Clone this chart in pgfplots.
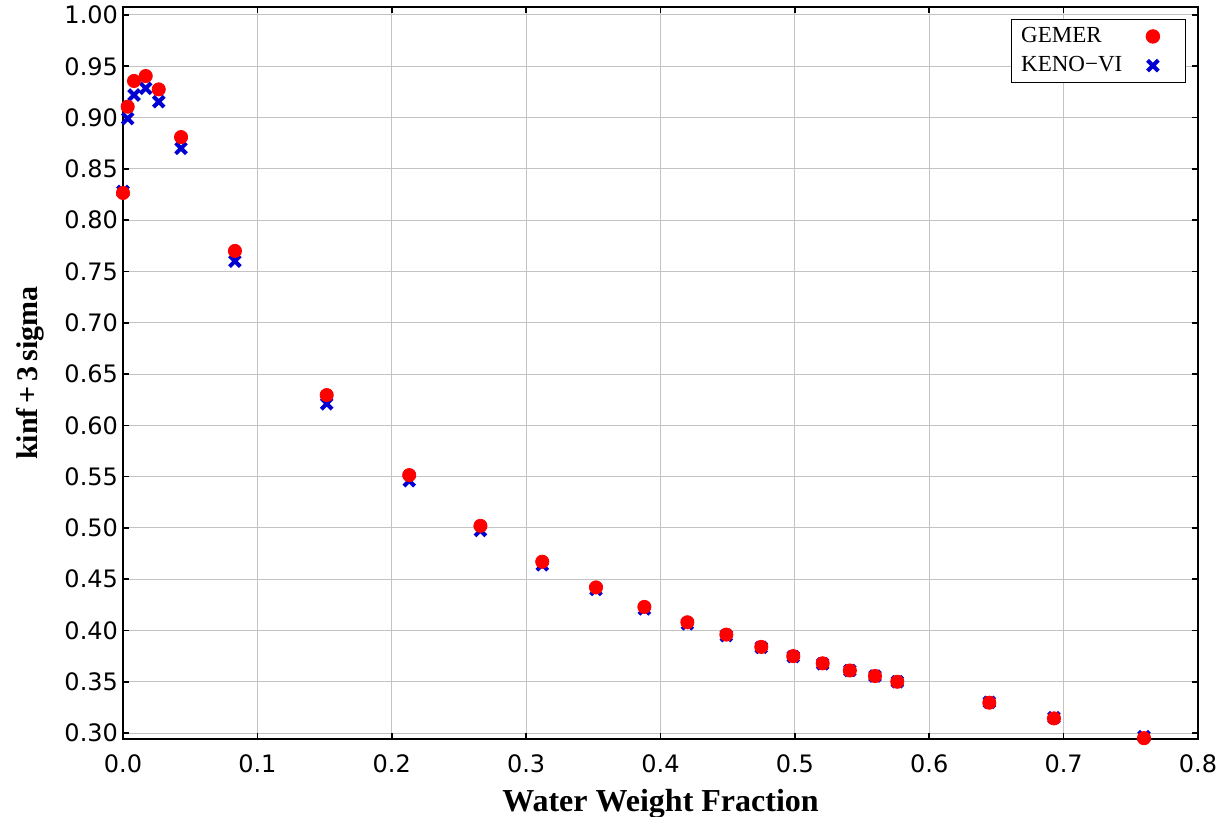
\documentclass[border=0pt]{standalone}
\usepackage{fontspec}
\setmainfont{Liberation Serif}
\newfontfamily\tickfont{DejaVu Sans}
\usepackage{pgfplots}
\pgfplotsset{compat=1.18}
\usepackage{pgfplotstable}

\definecolor{gemred}{RGB}{255,0,0}
\definecolor{kenoblue}{RGB}{0,0,210}
\definecolor{gridgray}{RGB}{195,195,195}

% water weight fraction, GEMER, KENO-VI (kinf + 3 sigma)
\pgfplotstableread{
x       gemer   keno
0.0000  0.8265  0.8280
0.0035  0.9106  0.8990
0.0082  0.9357  0.9220
0.0169  0.9405  0.9285
0.0266  0.9275  0.9155
0.0432  0.8810  0.8700
0.0833  0.7700  0.7600
0.1516  0.6295  0.6210
0.2130  0.5515  0.5460
0.2660  0.5020  0.4975
0.3120  0.4670  0.4640
0.3520  0.4420  0.4400
0.3880  0.4230  0.4210
0.4200  0.4080  0.4065
0.4490  0.3960  0.3950
0.4750  0.3840  0.3835
0.4988  0.3750  0.3745
0.5207  0.3680  0.3675
0.5409  0.3610  0.3610
0.5596  0.3556  0.3556
0.5762  0.3500  0.3500
0.6447  0.3296  0.3300
0.6928  0.3143  0.3150
0.7598  0.2950  0.2965
}\kinftab

\begin{document}
\begin{tikzpicture}
\begin{axis}[
    scale only axis,
    width=537.5pt, height=366pt,
    xmin=0, xmax=0.8,
    ymin=0.2942, ymax=1.0078,
    xtick={0,0.1,0.2,0.3,0.4,0.5,0.6,0.7,0.8},
    ytick={0.30,0.35,0.40,0.45,0.50,0.55,0.60,0.65,0.70,0.75,0.80,0.85,0.90,0.95,1.00},
    grid=major,
    major grid style={gridgray, line width=0.5pt},
    axis line style={black, line width=0.8pt},
    tick style={black, line width=0.8pt},
    tick align=inside,
    major tick length=3pt,
    /pgf/number format/assume math mode=true,
    /pgf/number format/.cd, fixed, fixed zerofill,
    /pgfplots/.cd,
    xticklabel style={font=\fontsize{12}{14}\selectfont\tickfont, /pgf/number format/precision=1, yshift=-4.5pt},
    yticklabel style={font=\fontsize{12}{14}\selectfont\tickfont, /pgf/number format/precision=2, xshift=1pt},
    xlabel={Water Weight Fraction},
    ylabel={kinf\,+\,3\,sigma},
    xlabel style={font=\fontsize{16}{18}\selectfont\bfseries, at={(axis description cs:0.5,0)}, anchor=base, yshift=-36pt},
    ylabel style={font=\fontsize{15}{18}\selectfont\bfseries, at={(axis description cs:-0.0791,0.5)}, anchor=base, rotate=0},
    legend plot pos=right,
    reverse legend,
    legend image code/.code={%
        \draw[mark repeat=2, mark phase=2, #1] plot coordinates {(0cm,0cm) (0.3cm,0cm) (0.6cm,0cm)};
        \path (0.6cm+4.5pt,0cm);},
    legend style={at={(0.989,0.984)}, anchor=north east, draw=black, line width=0.6pt,
        font=\fontsize{11.5}{13}\selectfont, row sep=1.5pt,
        /tikz/every odd column/.append style={column sep=10pt}},
    legend cell align=left,
]
\addplot[only marks, mark=x, mark size=3.8pt, color=kenoblue, mark options={line width=2pt}]
    table[x=x, y=keno] {\kinftab};
\addlegendentry{KENO−VI}
\addplot[only marks, mark=*, mark size=3.3pt, color=gemred, mark options={fill=gemred, draw=gemred}]
    table[x=x, y=gemer] {\kinftab};
\addlegendentry{GEMER}
\coordinate (sw) at (rel axis cs:0,0);
\coordinate (ne) at (rel axis cs:1,1);
\end{axis}
\pgfresetboundingbox
\path[use as bounding box] ([shift={(-61.5pt,-38.5pt)}]sw) rectangle ([shift={(10.5pt,3.5pt)}]ne);
\end{tikzpicture}
\end{document}
